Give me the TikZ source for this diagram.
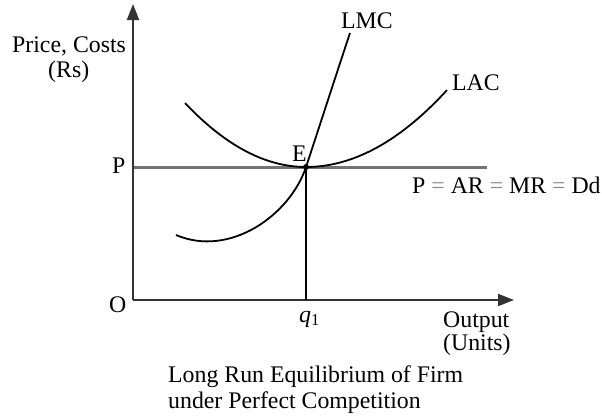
\documentclass[tikz,border=0pt]{standalone}
\usepackage{fontspec}
\setmainfont{Liberation Serif}
\usetikzlibrary{arrows.meta}
\begin{document}
\begin{tikzpicture}[x=1pt,y=-1pt,
  lbl/.style={inner sep=0pt, anchor=base west, font=\fontsize{23.8}{28}\selectfont},
  axis/.style={line width=2pt, draw=black!80, -{Triangle[length=16pt,width=12pt]}},
  curve/.style={line width=1.8pt, black},
  price/.style={line width=3pt, draw=black!55}]
\useasboundingbox (0,0) rectangle (602,416);
\coordinate (O) at (133,300);
\coordinate (Ytop) at (133,4);
\coordinate (Xend) at (514,300);
\coordinate (E) at (306,167);
\coordinate (Pl) at (133,167);
\coordinate (Pr) at (487,167);
\coordinate (Q) at (306,300);
\coordinate (mcA) at (176,235);
\coordinate (mcB) at (350,33);
% price line
\draw[price] (Pl) -- (Pr);
% axes
\draw[axis] (O) -- (Ytop);
\draw[axis] (O) -- (Xend);
% vertical line at q1
\draw[line width=1.5pt] (E) -- (Q);
% LAC
\draw[curve] plot[domain=185:306, samples=40] (\x, {167-0.437*((\x-306)/10)^2});
\draw[curve] plot[domain=306:447, samples=40] (\x, {167-0.387*((\x-306)/10)^2});
% LMC
\draw[curve] (mcA) .. controls (230,258) and (290,215) .. (E)
             .. controls (316,137) and (336,75) .. (mcB);
\fill (E) circle (3);
% labels
\node[lbl] (ylab1) at (12,52) {Price, Costs};
\node[lbl] (ylab2) at (48,77) {(Rs)};
\node[lbl] (Plab) at (112,173) {P};
\node[lbl] (Olab) at (109,312) {O};
\node[lbl] (Elab) at (292,161) {E};
\node[lbl] (lmc) at (341,28) {LMC};
\node[lbl] (lac) at (452,90) {LAC};
\node[lbl] (dd) at (412,193) {P {\color{black!45}=} AR {\color{black!45}=} MR {\color{black!45}=} Dd};
\node[lbl] (q1) at (299,322) {\textit{q}\textsubscript{1}};
\node[lbl] (out1) at (443,327) {Output};
\node[lbl] (out2) at (443,350) {(Units)};
\node[lbl] (cap1) at (168,382) {Long Run Equilibrium of Firm};
\node[lbl] (cap2) at (168,408) {under Perfect Competition};
\end{tikzpicture}
\end{document}
